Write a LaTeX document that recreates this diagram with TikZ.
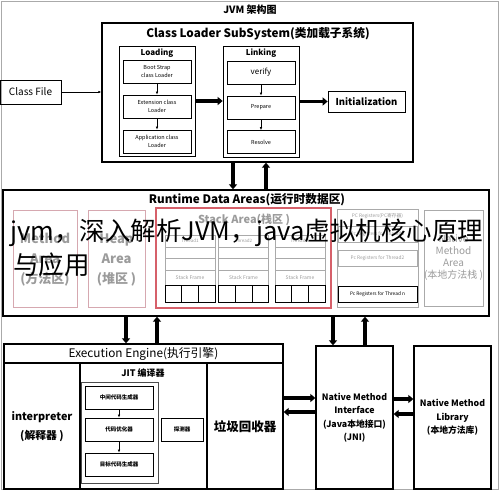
\documentclass[tikz,border=0pt]{standalone}
\usepackage{fontspec}
\setmainfont{Noto Sans CJK SC}
\usepackage{tikz}
\usetikzlibrary{arrows.meta,calc,positioning,chains}
\definecolor{pinkline}{RGB}{214,168,176}
\definecolor{redline}{RGB}{214,96,106}
\definecolor{greytext}{RGB}{155,155,155}
\definecolor{greyline}{RGB}{170,170,170}
\newcommand\fsz[2]{\fontsize{#1}{#2}\selectfont}

\begin{document}
\begin{tikzpicture}[x=1pt,y=-1pt]
	\tikzstyle{blk}=[draw,line width=1.3pt,inner sep=0pt,align=center]
	\tikzstyle{sub}=[draw,line width=0.7pt,inner sep=0pt,align=center]
	\tikzstyle{small}=[sub,minimum width=68pt,minimum height=23pt,font=\fsz{5.5}{8}]
	\tikzstyle{area}=[draw=pinkline,line width=1pt,inner sep=0pt,align=center,text=greytext,font=\bfseries\fsz{13}{20}]
	\tikzstyle{cell}=[draw=greyline,line width=0.7pt,inner sep=0pt,minimum width=50pt,text=greytext,font=\fsz{4.5}{5}]
	\tikzstyle{cellb}=[draw,line width=0.9pt,inner sep=0pt,minimum width=16.7pt,minimum height=17pt]
	\tikzstyle{pcbox}=[draw=greyline,line width=0.7pt,inner sep=0pt,minimum width=79pt,minimum height=16pt,text=greytext,font=\fsz{4.8}{5}]
	\tikzstyle{title}=[inner sep=0pt,font=\bfseries\fsz{11.7}{13}]
	\tikzstyle{lnk}=[draw,line width=0.6pt,-{Latex[length=3pt,width=2.5pt]}]
	\tikzstyle{fat}=[draw,line width=3.5pt,-{Triangle[length=5pt,width=8pt]}]

	\useasboundingbox (0,0) rectangle (500,490);
	\draw [greyline,line width=0.8pt] (1,1) rectangle (498,489);
	\node [title,font=\bfseries\fsz{10}{12}] (head) at (250,10) {JVM 架构图};

	%% Class loader
	\node [blk,minimum width=311pt,minimum height=139pt] (cls) at (257.5,92.5) {};
	\node [title] (clstitle) at (258,34) {Class Loader SubSystem(类加载子系统)};
	\node [sub,minimum width=76pt,minimum height=110pt] (loading) at (157,101) {};
	\node [title,font=\bfseries\fsz{8}{10}] (loadtitle) at (157,53) {Loading};
	\node [small] (boot) at (157,71.5) {Boot Strap\\class Loader};
	\node [small] (ext) at (157,106.5) {Extension class\\Loader};
	\node [small] (app) at (157,141.5) {Application class\\Loader};
	\node [sub,minimum width=76pt,minimum height=111pt] (linking) at (261,101.5) {};
	\node [title,font=\bfseries\fsz{8}{10}] (linktitle) at (261,53) {Linking};
	\node [small,font=\fsz{8}{10}] (verify) at (261,72.5) {verify};
	\node [small] (prepare) at (261,107.5) {Prepare};
	\node [small] (resolve) at (261,142) {Resolve};
	\node [sub,minimum width=77pt,minimum height=21pt,font=\bfseries\fsz{9.5}{11}] (init) at (366.5,101.5) {Initialization};
	\node [sub,minimum width=61pt,minimum height=24pt,font=\fsz{10}{12}] (classfile) at (30.5,92) {Class File};

	\draw [lnk] (classfile.east) -- (classfile.east -| cls.west);
	\draw [lnk] (boot.south) -- (ext.north);
	\draw [lnk] (ext.south) -- (app.north);
	\draw [lnk] (verify.south) -- (prepare.north);
	\draw [lnk] (prepare.south) -- (resolve.north);
	\draw [fat] (loading.east) -- (loading.east -| linking.west);
	\draw [fat] (linking.east) -- (init.west);

	%% Runtime data areas
	\node [blk,minimum width=486pt,minimum height=126pt] (rda) at (246,253) {};
	\node [title] (rdatitle) at (247,200) {Runtime Data Areas(运行时数据区)};
	\coordinate (v1) at (233,0);
	\coordinate (v2) at (266,0);
	\draw [fat] (cls.south -| v1) -- (rda.north -| v1);
	\draw [fat] (rda.north -| v2) -- (cls.south -| v2);

	\node [area,minimum width=64pt,minimum height=97pt] (method) at (45,258.5) {};
	\node [area,draw=none] (methodtext) at (45,260) {Method\\Area\\(方法区)};
	\node [area,minimum width=57pt,minimum height=97pt] (heap) at (116.5,258.5) {};
	\node [area,draw=none] (heaptext) at (116.5,260) {Heap\\Area\\(堆区 )};
	\node [area,draw=redline,line width=1.5pt,minimum width=175pt,minimum height=100pt] (stack) at (243.5,258) {};
	\node [area,draw=none,font=\bfseries\fsz{11}{12}] (stacktitle) at (244,220) {Stack Area(栈区 )};

	%% Thread columns
	\begin{scope}[start chain=1 going below,node distance=-0.7pt]
	    \node [on chain=1,cell,minimum height=12pt] (t1a) at (190,241) {Thread1};
	    \node [on chain=1,cell,minimum height=11pt] (t1b) {};
	    \node [on chain=1,cell,minimum height=12pt] (t1c) {};
	    \node [on chain=1,cell,minimum height=15pt,font=\fsz{5}{6}] (t1d) {Stack Frame};
	\end{scope}
	\begin{scope}[start chain=2 going below,node distance=-0.7pt]
	    \node [on chain=2,cell,minimum height=12pt] (t2a) at (243.5,241) {Thread2};
	    \node [on chain=2,cell,minimum height=11pt] (t2b) {};
	    \node [on chain=2,cell,minimum height=12pt] (t2c) {};
	    \node [on chain=2,cell,minimum height=15pt,font=\fsz{5}{6}] (t2d) {Stack Frame};
	\end{scope}
	\begin{scope}[start chain=3 going below,node distance=-0.7pt]
	    \node [on chain=3,cell,minimum height=12pt] (t3a) at (300,241) {Thread n};
	    \node [on chain=3,cell,minimum height=11pt] (t3b) {};
	    \node [on chain=3,cell,minimum height=12pt] (t3c) {};
	    \node [on chain=3,cell,minimum height=15pt,font=\fsz{5}{6}] (t3d) {Stack Frame};
	\end{scope}
	\node [cellb,below right=-0.7pt and 0pt of t1d.south west] (t1e) {};
	\node [cellb,right=-0.9pt of t1e] (t1f) {};
	\node [cellb,right=-0.9pt of t1f] (t1g) {};
	\node [cellb,below right=-0.7pt and 0pt of t2d.south west] (t2e) {};
	\node [cellb,right=-0.9pt of t2e] (t2f) {};
	\node [cellb,right=-0.9pt of t2f] (t2g) {};
	\node [cellb,below right=-0.7pt and 0pt of t3d.south west] (t3e) {};
	\node [cellb,right=-0.9pt of t3e] (t3f) {};
	\node [cellb,right=-0.9pt of t3f] (t3g) {};

	%% PC registers
	\node [pcbox,minimum width=81pt,minimum height=98pt] (pc) at (377.5,258) {};
	\node [inner sep=0pt,text=greytext,font=\fsz{4.8}{5}] (pctitle) at (377.5,216) {PC Registers(PC寄存器)};
	\node [pcbox] (pc1) at (377.5,234) {Pc Registers for Thread1};
	\node [pcbox] (pc2) at (377.5,258) {Pc Registers for Thread2};
	\node [pcbox,draw=black,text=black] (pcn) at (377.5,294) {Pc Registers for Thread n};

	\node [area,draw=greyline,minimum width=59pt,minimum height=96pt] (native) at (453.5,258) {};
	\node [area,draw=none,font=\fsz{10}{12}] (nativetext) at (453.5,258) {Native\\Method\\Area\\(本地方法栈 )};

	%% Execution engine
	\node [blk,minimum width=279pt,minimum height=145pt] (ee) at (143.5,416.5) {};
	\coordinate (hdr) at (0,363);
	\coordinate (d1) at (80,0);
	\coordinate (d2) at (207,0);
	\draw [line width=1.3pt] (ee.west |- hdr) -- (ee.east |- hdr);
	\draw [line width=1.3pt] (d1 |- hdr) -- (d1 |- ee.south);
	\draw [line width=1.3pt] (d2 |- hdr) -- (d2 |- ee.south);
	\node [title,font=\fsz{11.8}{13}] (eetitle) at (143.5,354) {Execution Engine(执行引擎)};
	\node [title,align=center,font=\bfseries\fsz{10.8}{19}] (interp) at (42,427) {interpreter\\(解释器 )};
	\node [title,font=\bfseries\fsz{9}{10}] (jittitle) at (143,373) {JIT 编译器};
	\node [sub,draw=black!70,minimum width=77pt,minimum height=101pt] (jit) at (119.5,432.5) {};
	\node [small,font=\bfseries\fsz{5.5}{7}] (mid) at (119,397.5) {中间代码生成器};
	\node [small,font=\bfseries\fsz{5.5}{7}] (opt) at (119,429.5) {代码优化器};
	\node [small,font=\bfseries\fsz{5.5}{7}] (tgt) at (119,464.5) {目标代码生成器};
	\node [small,minimum width=42pt,font=\bfseries\fsz{5.5}{7}] (probe) at (182,429.5) {探测器};
	\draw [lnk] (mid.south) -- (opt.north);
	\draw [lnk] (opt.south) -- (tgt.north);
	\node [title,font=\bfseries\fsz{12.5}{14}] (gc) at (245,427) {垃圾回收器};

	%% Native interface and library
	\node [blk,minimum width=77pt,minimum height=143pt,font=\bfseries\fsz{8.8}{13.5}] (jni) at (354.5,417.5) {Native Method\\Interface\\(Java本地接口)\\(JNI)};
	\node [blk,minimum width=77pt,minimum height=143pt,font=\bfseries\fsz{8.8}{13.5}] (lib) at (452.5,417.5) {Native Method\\Library\\(本地方法库)};

	\coordinate (v3) at (126,0);
	\coordinate (v4) at (157,0);
	\coordinate (v5) at (333,0);
	\coordinate (v6) at (365,0);
	\draw [fat] (rda.south -| v3) -- (ee.north -| v3);
	\draw [fat] (ee.north -| v4) -- (rda.south -| v4);
	\draw [fat] (rda.south -| v5) -- (jni.north -| v5);
	\draw [fat] (jni.north -| v6) -- (rda.south -| v6);

	\coordinate (h1) at (0,398);
	\coordinate (h2) at (0,412);
	\coordinate (h3) at (0,399);
	\coordinate (h4) at (0,414);
	\draw [fat] (ee.east |- h1) -- (jni.west |- h1);
	\draw [fat] (jni.west |- h2) -- (ee.east |- h2);
	\draw [fat] (jni.east |- h3) -- (lib.west |- h3);
	\draw [fat] (lib.west |- h4) -- (jni.east |- h4);

	%% watermark text
	\node [anchor=west,inner sep=0pt,font=\fsz{25.5}{30}] (wm1) at (10,233) {jvm，深入解析JVM，java虚拟机核心原理};
	\node [anchor=west,inner sep=0pt,font=\fsz{25.5}{30}] (wm2) at (13,265) {与应用};
\end{tikzpicture}
\end{document}
